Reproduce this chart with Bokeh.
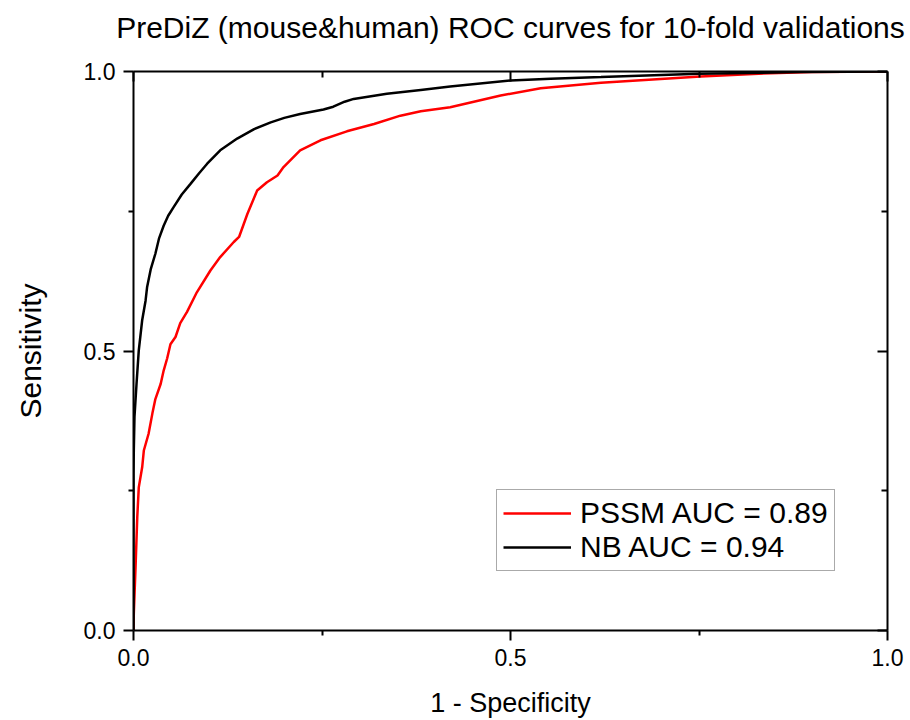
from bokeh.plotting import figure
from bokeh.models import (Range1d, FixedTicker, NumeralTickFormatter, LinearAxis, Legend,
                          LegendItem, CustomJSTickFormatter)
from bokeh.embed import file_html
from bokeh.resources import INLINE

# ---- data ----
nb_fpr = [0.0, 0.0, 0.0004, 0.0013, 0.004, 0.007, 0.0115, 0.016, 0.018, 0.023, 0.029, 0.034,
          0.040, 0.046, 0.053, 0.064, 0.0756, 0.087, 0.0977, 0.115, 0.1375, 0.16, 0.182, 0.20,
          0.221, 0.252, 0.265, 0.28, 0.292, 0.336, 0.381, 0.42, 0.50, 0.553, 0.62, 0.75,
          0.885, 1.0]
nb_tpr = [0.0, 0.28, 0.322, 0.382, 0.441, 0.501, 0.555, 0.590, 0.614, 0.647, 0.674, 0.702,
          0.724, 0.742, 0.757, 0.780, 0.799, 0.818, 0.835, 0.859, 0.880, 0.897, 0.909, 0.917,
          0.924, 0.932, 0.937, 0.946, 0.951, 0.960, 0.967, 0.973, 0.984, 0.987, 0.990, 0.996,
          0.999, 1.0]

pssm_fpr = [0.0, 0.0004, 0.0027, 0.005, 0.007, 0.0115, 0.0137, 0.020, 0.025, 0.029, 0.036,
            0.040, 0.0447, 0.049, 0.0557, 0.062, 0.071, 0.084, 0.102, 0.115, 0.133, 0.140,
            0.151, 0.164, 0.177, 0.191, 0.199, 0.221, 0.248, 0.283, 0.319, 0.354, 0.381,
            0.42, 0.487, 0.54, 0.62, 0.752, 0.845, 0.90, 1.0]
pssm_tpr = [0.0, 0.030, 0.113, 0.203, 0.256, 0.292, 0.322, 0.352, 0.388, 0.414, 0.441,
            0.465, 0.487, 0.512, 0.525, 0.550, 0.570, 0.605, 0.644, 0.668, 0.695, 0.704,
            0.745, 0.787, 0.802, 0.814, 0.829, 0.859, 0.877, 0.893, 0.906, 0.921, 0.929,
            0.936, 0.957, 0.970, 0.980, 0.991, 0.997, 0.999, 1.0]

major_ticks = [0.0, 0.5, 1.0]
minor_ticks = [0.25, 0.75]

title_text = "PreDiZ (mouse&human) ROC curves for 10-fold validations"
x_label = "1 - Specificity"
y_label = "Sensitivity"
labels = ["PSSM AUC = 0.89", "NB AUC = 0.94"]

FONT = "Liberation Sans"

p = figure(width=905, height=720, output_backend="svg", toolbar_location=None,
           x_range=Range1d(0, 1), y_range=Range1d(0, 1),
           x_axis_location=None, y_axis_location=None,
           min_border_left=133, min_border_right=18, min_border_top=71, min_border_bottom=90)
p.xgrid.visible = False
p.ygrid.visible = False
p.outline_line_color = None
p.background_fill_color = "white"
p.border_fill_color = "white"

def make_axis(main, label=None, label_size="26px"):
    ax = LinearAxis(ticker=FixedTicker(ticks=major_ticks, minor_ticks=minor_ticks))
    ax.axis_line_width = 2
    ax.axis_line_color = "black"
    ax.major_tick_line_width = 2
    ax.minor_tick_line_width = 2
    ax.major_tick_line_color = "black"
    ax.minor_tick_line_color = "black"
    if main:
        ax.major_tick_out = 10
        ax.major_tick_in = 0
        ax.minor_tick_out = 5
        ax.minor_tick_in = 0
        ax.formatter = NumeralTickFormatter(format="0.0")
        ax.major_label_text_font = FONT
        ax.major_label_text_font_size = "23px"
        ax.major_label_text_color = "black"
        ax.major_label_standoff = 8
    else:
        ax.major_tick_out = 0
        ax.major_tick_in = 10
        ax.minor_tick_out = 0
        ax.minor_tick_in = 6
        ax.formatter = CustomJSTickFormatter(code="return ''")
        ax.major_label_standoff = 0
    if label:
        ax.axis_label = label
        ax.axis_label_text_font = FONT
        ax.axis_label_text_font_size = label_size
        ax.axis_label_text_font_style = "normal"
        ax.axis_label_text_color = "black"
    return ax

xb = make_axis(True, x_label, "27px")
xb.axis_label_standoff = 19
yl = make_axis(True, y_label, "30px")
yl.axis_label_standoff = 34
# top mirror axis carries the chart title as its label
xt = make_axis(False, title_text, "30px")
xt.axis_label_standoff = 28
p.add_layout(xb, "below")
p.add_layout(yl, "left")
p.add_layout(xt, "above")
p.add_layout(make_axis(False), "right")

r_pssm = p.line(pssm_fpr, pssm_tpr, line_color="#ff0000", line_width=2.5)
r_nb = p.line(nb_fpr, nb_tpr, line_color="black", line_width=2.5)

legend = Legend(items=[LegendItem(label=labels[0], renderers=[r_pssm]),
                       LegendItem(label=labels[1], renderers=[r_nb])],
                location=(363, 59))
legend.label_text_font = FONT
legend.label_text_font_size = "30px"
legend.label_text_color = "black"
legend.glyph_width = 68
legend.label_standoff = 9
legend.padding = 6
legend.spacing = -4
legend.margin = 0
legend.border_line_color = "#555555"
legend.border_line_width = 1
legend.background_fill_alpha = 1
p.add_layout(legend, "center")

open("out.html", "w").write(file_html(p, INLINE))
